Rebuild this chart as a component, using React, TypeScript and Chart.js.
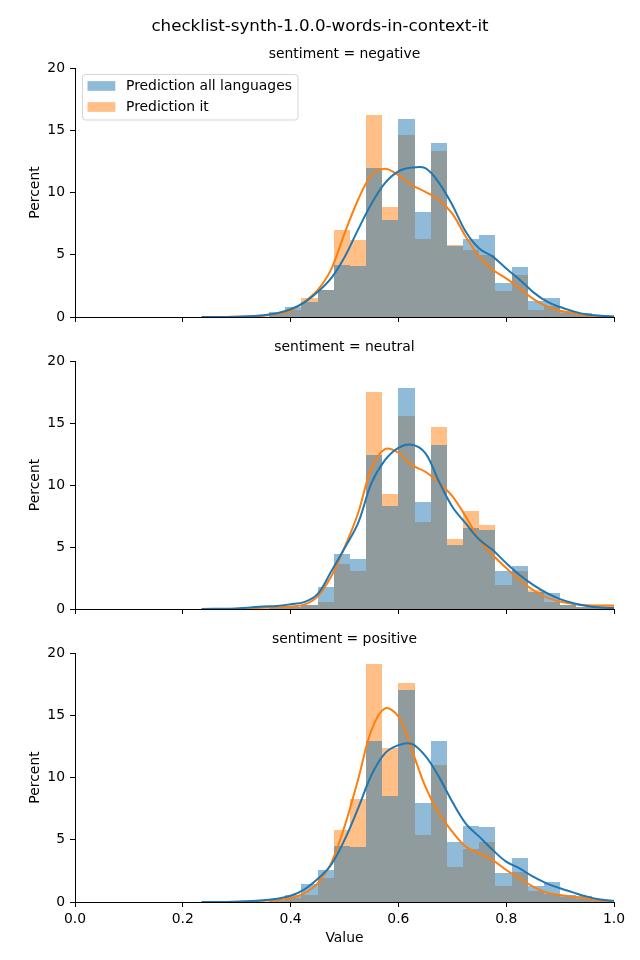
import React, { useEffect, useRef } from 'react';
import { Chart, registerables } from 'chart.js';

Chart.register(...registerables);
Chart.defaults.font.family = "'DejaVu Sans', sans-serif";
Chart.defaults.color = '#000';

const FIG_TITLE = 'checklist-synth-1.0.0-words-in-context-it';
const panelTitles = ['sentiment = negative', 'sentiment = neutral', 'sentiment = positive'];
const seriesLabels = ['Prediction all languages', 'Prediction it'];
const xAxisTitle = 'Value';
const yAxisTitle = 'Percent';

// histogram bin centers (bin width 0.03)
const binCenters = [0.375, 0.405, 0.435, 0.465, 0.495, 0.525, 0.555, 0.585, 0.615, 0.645, 0.675,
  0.705, 0.735, 0.765, 0.795, 0.825, 0.855, 0.885, 0.915, 0.945, 0.975, 1.005];

const histAllNeg = [0.4, 0.8, 1.2, 2.2, 4.2, 4.1, 12.0, 7.8, 15.9, 8.4, 14.0, 5.7, 6.3, 6.6, 2.7, 4.0, 1.3, 1.5, 0.45, 0.3, 0.15, 0.05];
const histItNeg = [0.3, 0.6, 1.5, 2.2, 7.0, 6.2, 16.2, 8.85, 14.6, 6.3, 13.3, 5.8, 5.4, 5.0, 2.1, 3.4, 0.6, 0.9, 0.35, 0.2, 0.1, 0.05];

const histAllNeu = [0.15, 0.2, 0.3, 1.8, 4.4, 4.0, 12.4, 8.3, 17.8, 8.6, 13.2, 5.15, 6.55, 6.35, 3.05, 3.45, 1.35, 1.3, 0.35, 0.2, 0.15, 0.1];
const histItNeu = [0.1, 0.15, 0.3, 0.55, 3.6, 3.05, 17.5, 9.3, 15.6, 7.0, 14.7, 5.65, 7.9, 6.8, 1.95, 3.05, 1.5, 0.55, 0.3, 0.2, 0.3, 0.3];

const histAllPos = [0.15, 0.6, 1.45, 2.55, 4.5, 4.4, 12.95, 8.5, 17.05, 7.95, 12.95, 4.8, 6.1, 6.0, 2.3, 3.55, 1.3, 1.6, 0.55, 0.5, 0.15, 0.1];
const histItPos = [0.1, 0.3, 0.6, 1.95, 5.8, 8.25, 19.1, 12.35, 17.6, 5.4, 11.0, 2.8, 4.25, 4.8, 1.3, 2.4, 0.9, 0.65, 0.4, 0.25, 0.1, 0.05];

// KDE curves
const kdeX = [0.235, 0.30, 0.35, 0.375, 0.40, 0.425, 0.45, 0.475, 0.50, 0.525, 0.55, 0.575, 0.60, 0.625,
  0.65, 0.675, 0.70, 0.725, 0.75, 0.775, 0.80, 0.825, 0.85, 0.875, 0.90, 0.925, 0.95, 0.975, 1.0];

const kdeAllNeg = [0, 0.03, 0.15, 0.3, 0.62, 1.15, 2.0, 3.1, 4.8, 7.0, 9.1, 10.75, 11.7, 12.0, 11.95, 10.8, 9.0, 6.85, 5.5, 4.85, 3.9, 3.0, 2.0, 1.25, 0.8, 0.45, 0.2, 0.1, 0.05];
const kdeItNeg = [0, 0.02, 0.1, 0.25, 0.5, 1.2, 2.15, 3.8, 6.7, 9.4, 11.4, 11.9, 11.4, 10.6, 10.05, 9.4, 8.3, 6.45, 4.85, 3.8, 3.1, 2.3, 1.45, 0.85, 0.5, 0.3, 0.12, 0.05, 0.02];

const kdeAllNeu = [0, 0.05, 0.2, 0.25, 0.38, 0.55, 1.2, 3.0, 4.9, 6.9, 10.15, 12.0, 13.0, 13.25, 12.57, 10.3, 8.25, 6.9, 5.6, 4.75, 3.7, 2.74, 1.94, 1.29, 0.8, 0.47, 0.25, 0.12, 0.08];
const kdeItNeu = [0, 0.02, 0.1, 0.15, 0.2, 0.35, 1.0, 2.6, 4.95, 7.7, 11.35, 12.9, 12.6, 11.6, 11.07, 10.2, 9.1, 7.45, 5.6, 4.35, 3.3, 2.34, 1.53, 0.94, 0.6, 0.4, 0.3, 0.28, 0.28];

const kdeAllPos = [0, 0.03, 0.15, 0.27, 0.5, 1.0, 1.85, 2.97, 4.98, 7.5, 10.2, 11.94, 12.6, 12.7, 11.73, 10.07, 8.05, 6.3, 5.25, 4.18, 3.24, 2.7, 2.03, 1.5, 1.1, 0.75, 0.43, 0.2, 0.08];
const kdeItPos = [0, 0.02, 0.1, 0.15, 0.3, 0.7, 1.5, 3.1, 6.05, 9.8, 13.8, 15.55, 14.9, 12.2, 9.26, 7.12, 5.65, 4.45, 3.9, 3.37, 2.57, 1.9, 1.23, 0.75, 0.56, 0.43, 0.27, 0.12, 0.05];

const panels = [
  { histAll: histAllNeg, histIt: histItNeg, kdeAll: kdeAllNeg, kdeIt: kdeItNeg },
  { histAll: histAllNeu, histIt: histItNeu, kdeAll: kdeAllNeu, kdeIt: kdeItNeu },
  { histAll: histAllPos, histIt: histItPos, kdeAll: kdeAllPos, kdeIt: kdeItPos },
];

const layoutSpec = [
  { top: 0, h: 330, padTop: 68, xH: 13 },
  { top: 330, h: 292, padTop: 31, xH: 13 },
  { top: 622, h: 338, padTop: 31, xH: 58 },
];

const BLUE = '#1f77b4';
const ORANGE = '#ff7f0e';
const BLUE_A = 'rgba(31,119,180,0.5)';
const ORANGE_A = 'rgba(255,127,14,0.5)';
const FS = 13.9;

// snap bar edges to whole pixels so neighbouring translucent bars do not show seams
const snapBars = {
  id: 'snapBars',
  afterDatasetsUpdate(chart: any) {
    chart.data.datasets.forEach((ds: any, di: number) => {
      const meta = chart.getDatasetMeta(di);
      if (meta.type !== 'bar') return;
      meta.data.forEach((el: any) => {
        const l = Math.round(el.x - el.width / 2);
        const r = Math.round(el.x + el.width / 2);
        el.x = (l + r) / 2;
        el.width = r - l;
        el.y = Math.round(el.y);
        el.base = Math.round(el.base);
      });
    });
  },
};

function textPlugin(idx: number) {
  return {
    id: 'panelText' + idx,
    afterDraw(chart: any) {
      const { ctx, chartArea } = chart;
      ctx.save();
      ctx.fillStyle = '#000';
      ctx.textAlign = 'center';
      ctx.textBaseline = 'middle';
      ctx.font = `${FS}px 'DejaVu Sans'`;
      ctx.fillText(panelTitles[idx], (chartArea.left + chartArea.right) / 2, chartArea.top - 14);
      if (idx === 0) {
        ctx.font = `16.7px 'DejaVu Sans'`;
        ctx.fillText(FIG_TITLE, 320, 27);
        // legend
        ctx.font = `${FS}px 'DejaVu Sans'`;
        const bx = chartArea.left + 7.5;
        const by = chartArea.top + 6.5;
        const textX = bx + 43.5;
        const maxW = Math.max(...seriesLabels.map((s) => ctx.measureText(s).width));
        const bw = textX + maxW + 6 - bx;
        const bh = 45.5;
        const r = 3;
        ctx.beginPath();
        ctx.moveTo(bx + r, by);
        ctx.lineTo(bx + bw - r, by);
        ctx.arcTo(bx + bw, by, bx + bw, by + r, r);
        ctx.lineTo(bx + bw, by + bh - r);
        ctx.arcTo(bx + bw, by + bh, bx + bw - r, by + bh, r);
        ctx.lineTo(bx + r, by + bh);
        ctx.arcTo(bx, by + bh, bx, by + bh - r, r);
        ctx.lineTo(bx, by + r);
        ctx.arcTo(bx, by, bx + r, by, r);
        ctx.closePath();
        ctx.fillStyle = 'rgba(255,255,255,0.8)';
        ctx.fill();
        ctx.strokeStyle = '#d5d5d5';
        ctx.lineWidth = 1;
        ctx.stroke();
        const colors = [BLUE_A, ORANGE_A];
        seriesLabels.forEach((s, i) => {
          const cy = by + 11.5 + i * 21;
          ctx.fillStyle = colors[i];
          ctx.fillRect(bx + 5, cy - 4.85, 27.8, 9.7);
          ctx.fillStyle = '#000';
          ctx.textAlign = 'left';
          ctx.fillText(s, textX, cy);
        });
      }
      ctx.restore();
    },
  };
}

function makeConfig(idx: number): any {
  const isLast = idx === 2;
  const p = panels[idx];
  const L = layoutSpec[idx];
  const gridOpts = { drawOnChartArea: false, drawTicks: true, tickLength: 5, color: '#000', lineWidth: 1, offset: false };
  const borderOpts = { display: true, color: '#000', width: 1 };
  return {
    type: 'bar',
    data: {
      datasets: [
        {
          type: 'line', label: seriesLabels[0],
          data: kdeX.map((x, i) => ({ x, y: p.kdeAll[i] })),
          borderColor: BLUE, borderWidth: 2, pointRadius: 0, tension: 0.35, fill: false, order: 0,
        },
        {
          type: 'line', label: seriesLabels[1],
          data: kdeX.map((x, i) => ({ x, y: p.kdeIt[i] })),
          borderColor: ORANGE, borderWidth: 2, pointRadius: 0, tension: 0.35, fill: false, order: 1,
        },
        {
          type: 'bar', label: seriesLabels[0],
          data: binCenters.map((x, i) => ({ x, y: p.histAll[i] })),
          backgroundColor: BLUE_A, borderWidth: 0, grouped: false, barPercentage: 1, categoryPercentage: 1,
          inflateAmount: 0, clip: 0, order: 2,
        },
        {
          type: 'bar', label: seriesLabels[1],
          data: binCenters.map((x, i) => ({ x, y: p.histIt[i] })),
          backgroundColor: ORANGE_A, borderWidth: 0, grouped: false, barPercentage: 1, categoryPercentage: 1,
          inflateAmount: 0, clip: 0, order: 3,
        },
      ],
    },
    options: {
      responsive: false,
      animation: false,
      layout: { padding: { top: L.padTop, right: 26, left: 0, bottom: 0 } },
      plugins: { legend: { display: false }, tooltip: { enabled: false }, title: { display: false } },
      scales: {
        x: {
          type: 'linear', min: 0, max: 1, offset: false,
          ticks: {
            display: isLast, stepSize: 0.2, color: '#000', font: { size: FS }, padding: 4,
            maxRotation: 0, autoSkip: false, callback: (v: any) => Number(v).toFixed(1),
          },
          grid: gridOpts,
          border: borderOpts,
          title: { display: isLast, text: xAxisTitle, color: '#000', font: { size: FS }, padding: { top: 0, bottom: 13.6 } },
          afterFit: (s: any) => { s.height = L.xH; s.paddingLeft = 0; s.paddingRight = 0; },
        },
        y: {
          type: 'linear', min: 0, max: 20,
          ticks: { stepSize: 5, color: '#000', font: { size: FS }, padding: 5 },
          grid: gridOpts,
          border: borderOpts,
          title: { display: true, text: yAxisTitle, color: '#000', font: { size: FS }, padding: { top: 26.6, bottom: 0 } },
          afterFit: (s: any) => { s.width = 75; s.paddingTop = 0; s.paddingBottom = 0; },
        },
      },
    },
    plugins: [snapBars, textPlugin(idx)],
  };
}

export default function App() {
  const r0 = useRef<HTMLCanvasElement>(null);
  const r1 = useRef<HTMLCanvasElement>(null);
  const r2 = useRef<HTMLCanvasElement>(null);
  const refs = [r0, r1, r2];
  useEffect(() => {
    document.body.style.margin = '0';
    const charts = refs.map((r, i) => new Chart(r.current as HTMLCanvasElement, makeConfig(i)));
    return () => charts.forEach((c) => c.destroy());
  }, []);
  return (
    <div style={{ position: 'absolute', left: 0, top: 0, width: 640, height: 960, background: '#fff' }}>
      {layoutSpec.map((l, i) => (
        <canvas
          key={i}
          ref={refs[i]}
          width={640}
          height={l.h}
          style={{ position: 'absolute', left: 0, top: l.top, width: 640, height: l.h }}
        />
      ))}
    </div>
  );
}
